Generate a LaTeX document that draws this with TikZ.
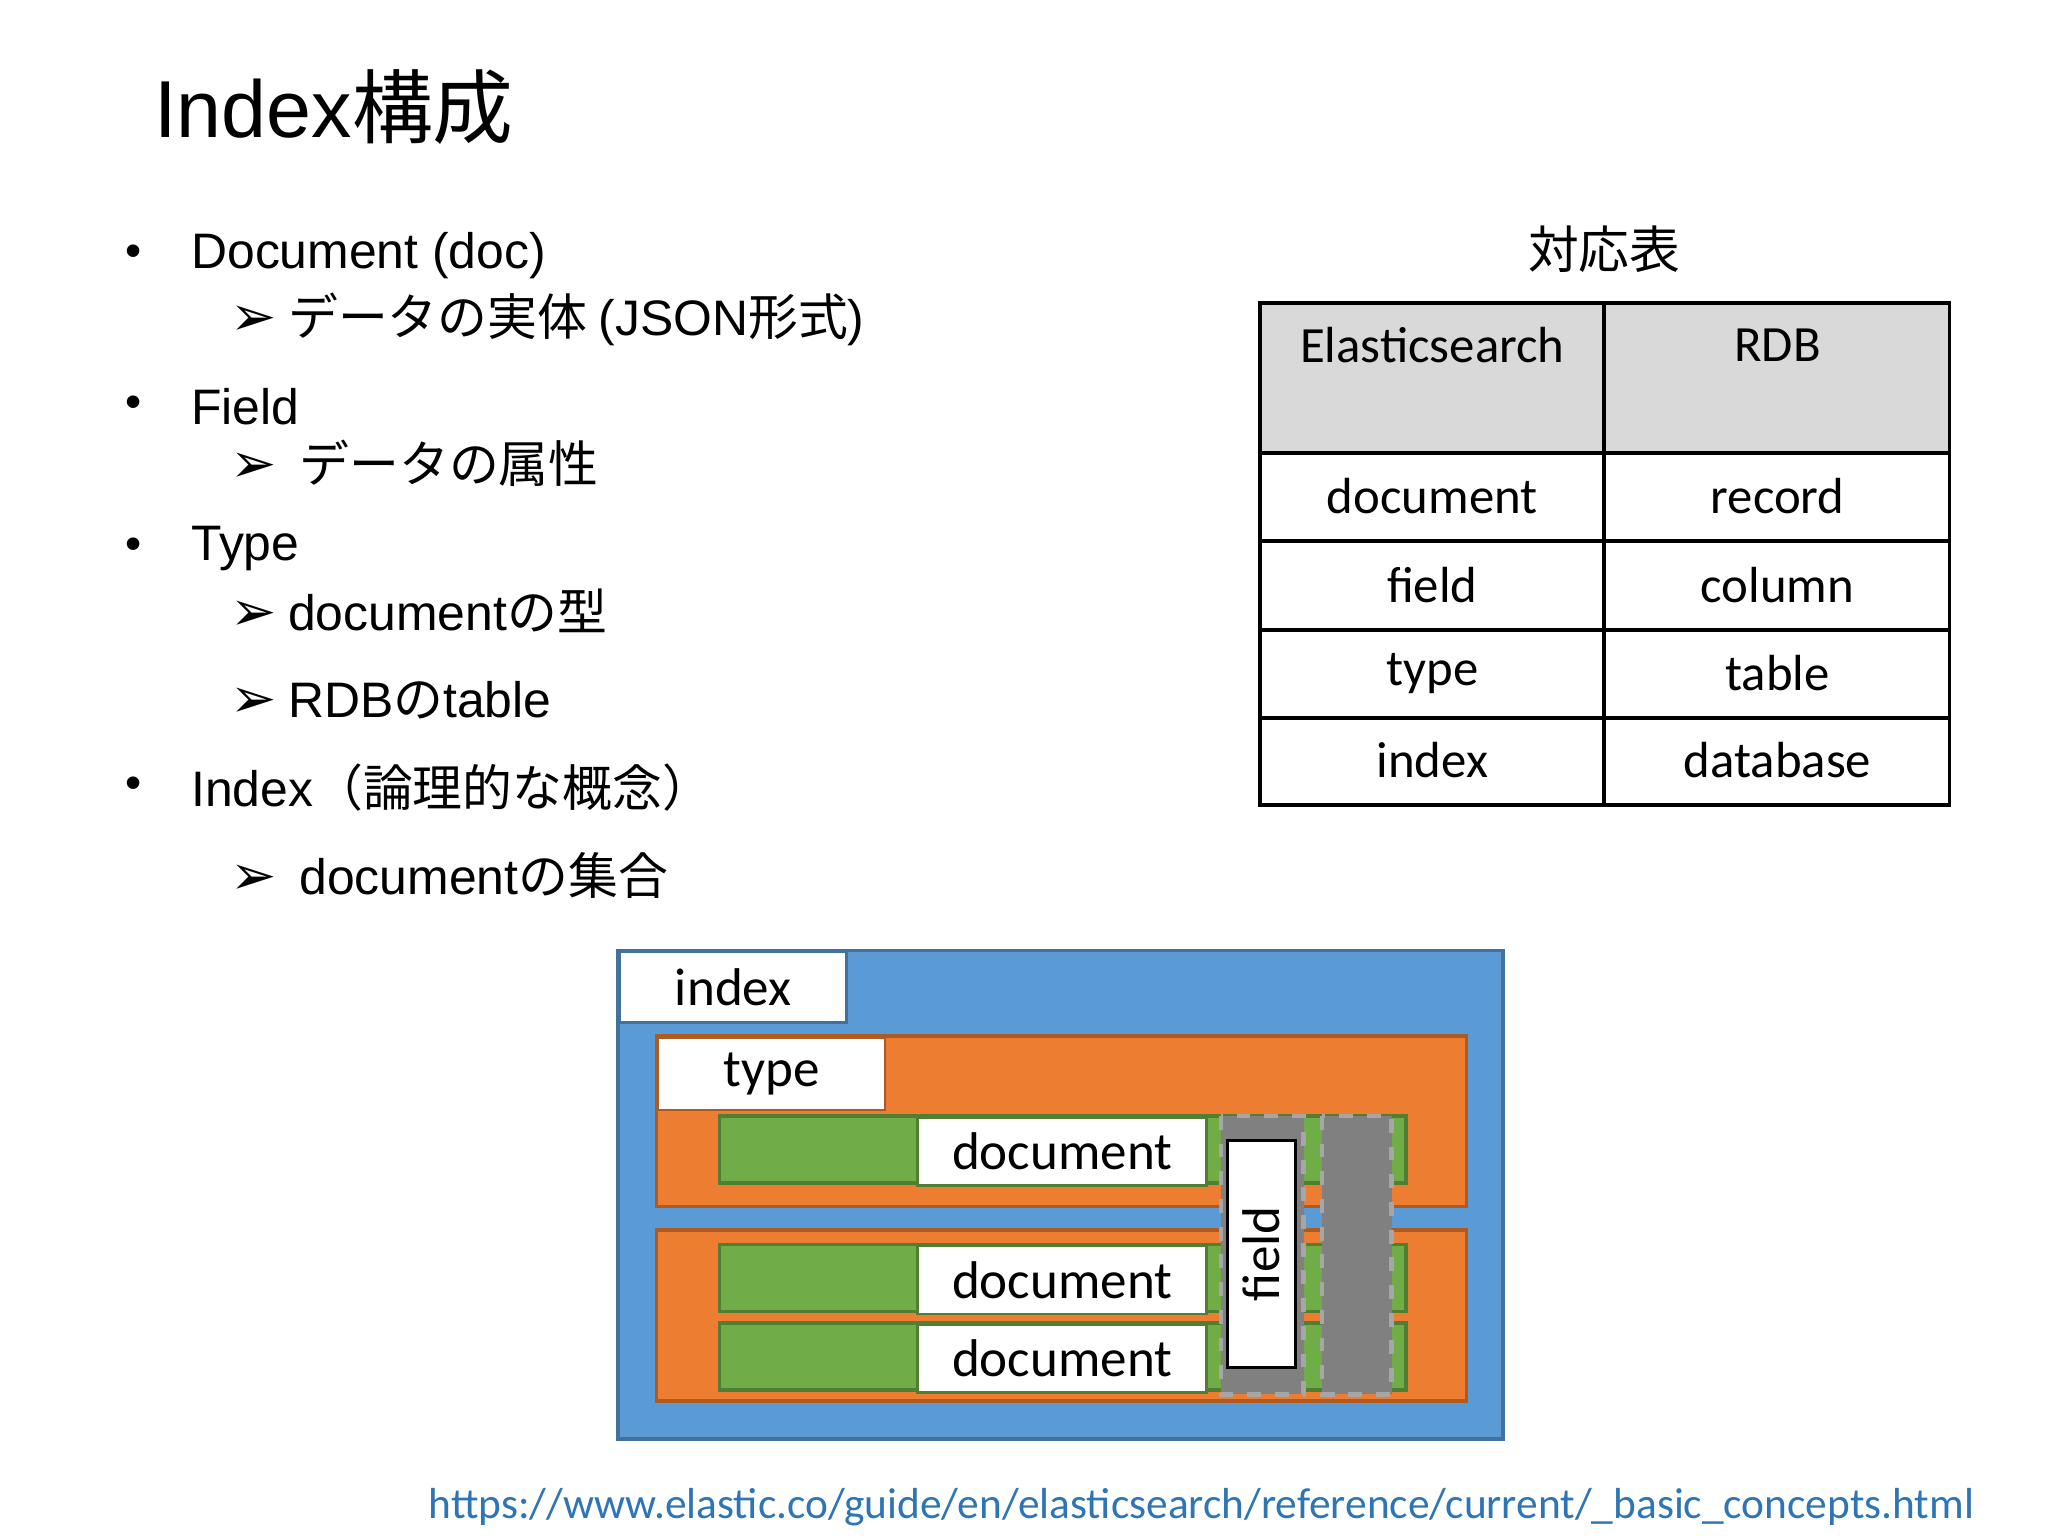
\documentclass[tikz,border=0pt]{standalone}
\usepackage{fontspec}
\setmainfont{Liberation Sans}
\newfontfamily\jp{Noto Sans CJK JP}
\newfontfamily\carl{Carlito}
\newfontfamily\dvs{DejaVu Sans}
\begin{document}
\begin{tikzpicture}[x=0.01cm,y=-0.01cm,
  bl/.style={anchor=west,font=\fontsize{10.8}{12}\selectfont\jp,inner sep=0},
  cell/.style={font=\fontsize{11}{13}\selectfont\carl},
  wbox/.style={draw=black!70,fill=white,line width=0.6pt},
  lbl/.style={font=\fontsize{11.5}{13}\selectfont\carl}]
\useasboundingbox (0,0) rectangle (1560,1170);
\node[anchor=base west,inner sep=0,font=\fontsize{17.5}{20}\selectfont] (title) at (117,105) {Index{\jp 構成}};
% bullets
\foreach \y/\n in {195/b1,310/b2,418/b3,600/b4}{\node[inner sep=0,font=\fontsize{10}{12}\selectfont] (\n) at (102,\y) {•};}
\node[bl] (t1) at (145,195) {\fontspec{Liberation Sans}Document (doc)};
\node[bl] (s1) at (175,243) {{\dvs\large ➢} データの実体 {\fontspec{Liberation Sans}(JSON}形式{\fontspec{Liberation Sans})}};
\node[bl] (t2) at (145,310) {\fontspec{Liberation Sans}Field};
\node[bl] (s2) at (175,353) {{\dvs\large ➢} \ データの属性};
\node[bl] (t3) at (145,418) {\fontspec{Liberation Sans}Type};
\node[bl] (s3) at (175,465) {{\dvs\large ➢} {\fontspec{Liberation Sans}document}の型};
\node[bl] (s4) at (175,533) {{\dvs\large ➢} {\fontspec{Liberation Sans}RDB}の{\fontspec{Liberation Sans}table}};
\node[bl] (t4) at (145,600) {{\fontspec{Liberation Sans}Index}（論理的な概念）};
\node[bl] (s5) at (175,667) {{\dvs\large ➢} \ {\fontspec{Liberation Sans}document}の集合};
% table
\node[font=\fontsize{11}{13}\selectfont\jp] (th) at (1222,190) {対応表};
\fill[black!15] (960,231) rectangle (1485,345);
\draw[line width=0.8pt] (960,231) rectangle (1485,613);
\draw[line width=0.8pt] (1222,231) -- (1222,613);
\foreach \y in {345,412,480,547}{\draw[line width=0.8pt] (960,\y) -- (1485,\y);}
\node[cell] (h1) at (1091,263) {Elasticsearch};
\node[cell] (h2) at (1354,263) {RDB};
\foreach \y/\a/\b [count=\i] in {378/document/record,446/field/column,513/type/table,579/index/database}{
  \node[cell] (l\i) at (1091,\y) {\a};
  \node[cell] (r\i) at (1354,\y) {\b};}
% diagram
\draw[fill={rgb,255:red,91;green,155;blue,213},draw={rgb,255:red,65;green,113;blue,156},line width=0.8pt] (471,724) rectangle (1145,1096);
\node[wbox,draw={rgb,255:red,65;green,113;blue,156},minimum width=173*0.01cm,minimum height=54*0.01cm,anchor=north west,lbl] (idx) at (471,724) {index};
\foreach \y in {789,937}{\draw[fill={rgb,255:red,237;green,125;blue,49},draw={rgb,255:red,174;green,90;blue,33},line width=0.8pt] (500,\y) rectangle (1117,\y+130);}
\node[wbox,draw={rgb,255:red,174;green,90;blue,33},minimum width=173*0.01cm,minimum height=48*0.01cm,anchor=north west,lbl] (typ) at (500,789) {type};
\foreach \y [count=\i] in {850,948,1008}{
  \draw[fill={rgb,255:red,112;green,173;blue,71},draw={rgb,255:red,80;green,126;blue,50},line width=0.8pt] (548,\y) rectangle (1071,\y+51);
  \node[wbox,draw={rgb,255:red,80;green,126;blue,50},minimum width=220*0.01cm,minimum height=51*0.01cm,anchor=north west,lbl] (d\i) at (698,\y) {document};}
\foreach \x/\w in {930/63,1007/53}{\fill[black!50] (\x,850) rectangle (\x+\w,1062);
  \draw[black!35,dashed,line width=1pt] (\x,850) rectangle (\x+\w,1062);}
\node[wbox,draw=black,minimum width=173*0.01cm,minimum height=48*0.01cm,rotate=90,lbl] (fld) at (961,955) {field};
\node[anchor=west,inner sep=0,text={rgb,255:red,46;green,117;blue,182},font=\fontsize{9.4}{12}\selectfont\carl] (url) at (326,1148) {https://www.elastic.co/guide/en/elasticsearch/reference/current/\_basic\_concepts.html};
\end{tikzpicture}
\end{document}
